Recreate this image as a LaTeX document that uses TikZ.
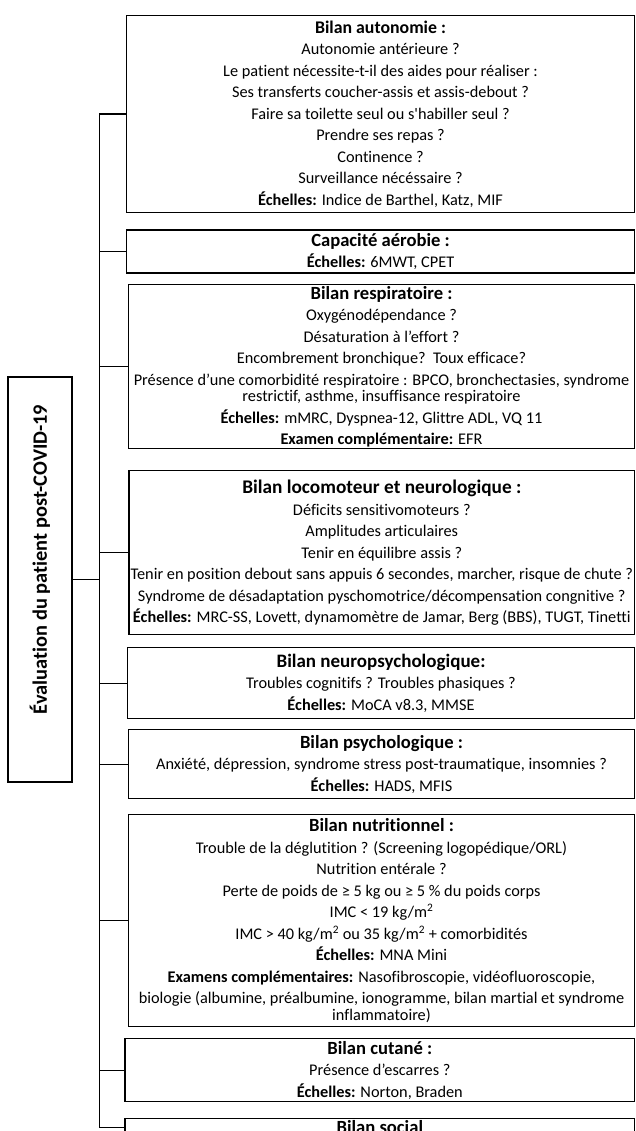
\documentclass[tikz,border=0pt]{standalone}
\usepackage{fontspec}
\setmainfont{Carlito}[Ligatures={TeX,NoCommon}]
\usetikzlibrary{positioning}
\newcommand{\brk}{\\[5pt]}
\newcommand{\titre}[2][18.6]{{\fontsize{#1}{17}\selectfont\bfseries #2}}
\newcommand{\ech}{\textbf{Échelles:}}
\newcommand{\msq}{m\textsuperscript{2}}

\begin{document}
\begin{tikzpicture}[x=1pt,y=-1pt,
bilan/.style={draw, line width=1.3pt, anchor=north west, align=center, inner sep=1pt,
  font=\fontsize{16.3}{16.5}\selectfont},
racine/.style={draw, line width=1.3pt, rotate=90, inner sep=0pt,
  minimum width=405, minimum height=64, font=\fontsize{20.4}{20}\selectfont\bfseries},
link/.style={line width=1.3pt}]
\useasboundingbox (0,0) rectangle (635,1131);
\clip (0,0) rectangle (635,1131);

%root
\node[racine] (root) at (40,579.5) {\hspace*{40pt}Évaluation du patient post-COVID-19};

%the boxes
\node[bilan, minimum width=508.3, minimum height=197] (auto) at (125.7,15) {%
\titre[17.8]{Bilan autonomie :}\brk
Autonomie antérieure ?\brk
Le patient nécessite-t-il des aides pour réaliser :\brk
Ses transferts coucher-assis et assis-debout ?\brk
Faire sa toilette seul ou s\textquotesingle habiller seul ?\brk
Prendre ses repas ?\brk
Continence ?\brk
Surveillance nécéssaire ?\brk
\ech{} Indice de Barthel, Katz, MIF};
\node[bilan, minimum width=508.3, minimum height=43] (aero) at (125.7,229.3) {%
\titre{Capacité aérobie :}\\[3pt]
\ech{} 6MWT, CPET};
\node[bilan, minimum width=506.3, minimum height=164] (resp) at (127.7,284) {%
\titre{Bilan respiratoire :}\brk
Oxygénodépendance ?\brk
Désaturation à l’effort ?\brk
Encombrement bronchique?\ \ Toux efficace?\brk
Présence d’une comorbidité respiratoire : BPCO, bronchectasies, syndrome\\
restrictif, asthme, insuffisance respiratoire\brk
\ech{} mMRC, Dyspnea-12, Glittre ADL, VQ 11\brk
\textbf{Examen complémentaire:} EFR};
\node[bilan, minimum width=505.7, minimum height=164] (loco) at (128.3,470) {%
\rule{0pt}{8pt}\titre[19.3]{Bilan locomoteur et neurologique :}\brk
Déficits sensitivomoteurs ?\brk
Amplitudes articulaires\brk
Tenir en équilibre assis ?\brk
Tenir en position debout sans appuis 6 secondes, marcher, risque de chute ?\brk
Syndrome de désadaptation pyschomotrice/décompensation congnitive ?\brk
\ech{} MRC-SS, Lovett, dynamomètre de Jamar, Berg (BBS), TUGT, Tinetti};
\node[bilan, minimum width=507.3, minimum height=71] (neuro) at (126.7,647) {%
\titre[19]{Bilan neuropsychologique:}\brk
Troubles cognitifs ? Troubles phasiques ?\brk
\ech{} MoCA v8.3, MMSE};
\node[bilan, minimum width=506.3, minimum height=69] (psy) at (127.7,729) {%
\titre{Bilan psychologique :}\brk
Anxiété, dépression, syndrome stress post-traumatique, insomnies ?\brk
\ech{} HADS, MFIS};
\node[bilan, minimum width=506.3, minimum height=212] (nutri) at (127.7,814) {%
\titre{Bilan nutritionnel :}\brk
Trouble de la déglutition ? (Screening logopédique/ORL)\brk
Nutrition entérale ?\brk
Perte de poids de ≥ 5 kg ou ≥ 5 \% du poids corps\brk
IMC < 19 kg/\msq\brk
IMC > 40 kg/\msq{} ou 35 kg/\msq{} + comorbidités\brk
\ech{} MNA Mini\brk
\textbf{Examens complémentaires:} Nasofibroscopie, vidéofluoroscopie,\brk
biologie (albumine, préalbumine, ionogramme, bilan martial et syndrome\\
inflammatoire)};
\node[bilan, minimum width=509.7, minimum height=63] (cut) at (124.3,1038) {%
\titre{Bilan cutané :}\brk
Présence d’escarres ?\brk
\ech{} Norton, Braden};
\node[bilan, minimum width=509.7, minimum height=18] (soc) at (124.3,1117.7) {%
\titre{Bilan social}};

%connectors
\coordinate (bus) at (99.3,0);
\draw[link] (auto.west -| bus) -- (soc.west -| bus);
\draw[link] (root.south) -- (root.south -| bus);
\foreach \b in {auto,aero,resp,loco,neuro,psy,nutri,cut,soc}
  \draw[link] (\b.west -| bus) -- (\b.west);
\end{tikzpicture}
\end{document}
